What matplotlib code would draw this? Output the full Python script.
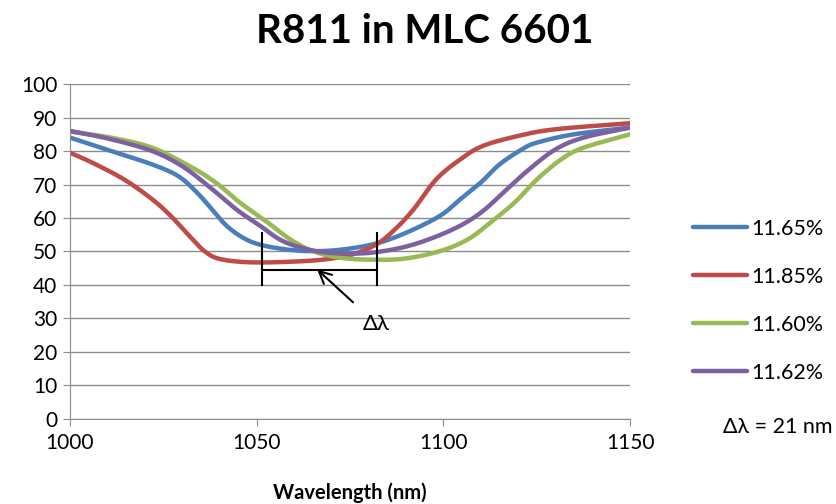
import numpy as np
import matplotlib
matplotlib.use("Agg")
import matplotlib.pyplot as plt

plt.rcParams['font.family'] = ['Lato', 'DejaVu Sans']

# wavelength (nm) / value pairs
blue_x = [1000, 1011, 1022, 1029, 1034, 1038, 1042, 1046.5, 1051, 1058, 1065, 1073, 1082, 1090, 1099, 1104.5, 1110, 1115, 1121, 1125, 1135, 1150]
blue_y = [84, 80, 76, 72.5, 67.6, 62.6, 57.6, 54, 52, 50.6, 50.1, 50.6, 52.4, 55.6, 60.6, 65.6, 70.6, 76, 80.5, 82.5, 85, 87]

red_x = [1000, 1006, 1014.5, 1022, 1027, 1032, 1036, 1040, 1047.5, 1058, 1068, 1075.5, 1082, 1087, 1092, 1098, 1104.5, 1110.5, 1120, 1130, 1150]
red_y = [79.5, 76.5, 71.5, 65.6, 60.6, 54.6, 50.1, 47.8, 46.8, 46.9, 47.6, 49.1, 52.1, 56.6, 62.6, 71.5, 77.5, 81.5, 84.5, 86.5, 88.3]

green_x = [1000, 1011, 1022, 1032, 1039, 1045.5, 1053, 1059, 1065, 1071.5, 1078.5, 1089, 1099, 1106.5, 1112.5, 1119, 1125, 1131.5, 1137.5, 1150]
green_y = [85.8, 84, 81, 75.5, 70.6, 64.6, 58.6, 53.6, 50.1, 48.3, 47.6, 47.8, 50.1, 53.6, 58.6, 64.6, 71.5, 77.5, 81, 85]

purple_x = [1000, 1011, 1022, 1030, 1037, 1044.5, 1051, 1057, 1065, 1073, 1082, 1092, 1102.5, 1110, 1117, 1123, 1130, 1137.5, 1150]
purple_y = [86, 83.5, 80, 75.5, 69.6, 62.6, 57.6, 53.1, 50.3, 49.4, 49.8, 52.1, 56.6, 61.6, 68.6, 74.6, 80.5, 84, 87]

labels = ['11.65%', '11.85%', '11.60%', '11.62%']
colors = ['#4A7EBB', '#BE4B48', '#98B954', '#7D60A0']

# delta-lambda bracket
br_left, br_right = 1051.3, 1082.1
br_low, br_high = 40, 55.6
br_mid = 44.6


def smooth(x, y, n=12):
    # catmull-rom so the lines look like excel smoothed lines
    x = np.asarray(x, float)
    y = np.asarray(y, float)
    px = np.concatenate([[2 * x[0] - x[1]], x, [2 * x[-1] - x[-2]]])
    py = np.concatenate([[2 * y[0] - y[1]], y, [2 * y[-1] - y[-2]]])
    ox, oy = [], []
    t = np.linspace(0, 1, n, endpoint=False)
    for i in range(1, len(px) - 2):
        for arr, out in ((px, ox), (py, oy)):
            p0, p1, p2, p3 = arr[i - 1:i + 3]
            out.extend(0.5 * (2 * p1 + (-p0 + p2) * t + (2 * p0 - 5 * p1 + 4 * p2 - p3) * t ** 2
                              + (-p0 + 3 * p1 - 3 * p2 + p3) * t ** 3))
    ox.append(x[-1])
    oy.append(y[-1])
    return ox, oy


fig = plt.figure(figsize=(8.37, 5.04), dpi=100)
ax = fig.add_axes([0.0836, 0.1687, 0.6694, 0.6646])

series = [(blue_x, blue_y), (red_x, red_y), (green_x, green_y), (purple_x, purple_y)]
for (xs, ys), lab, c in zip(series, labels, colors):
    sx, sy = smooth(xs, ys)
    ax.plot(sx, sy, color=c, lw=3.2, label=lab, solid_capstyle='round')

ax.set_xlim(1000, 1150)
ax.set_ylim(0, 100)
ax.set_xticks([1000, 1050, 1100, 1150])
ax.set_yticks(range(0, 101, 10))
ax.grid(axis='y', color='#8c8c8c', lw=1)
ax.set_axisbelow(True)
for s in ['top', 'right']:
    ax.spines[s].set_visible(False)
for s in ['left', 'bottom']:
    ax.spines[s].set_color('#8c8c8c')
ax.tick_params(colors='#8c8c8c', labelcolor='black', labelsize=15, length=5)
ax.tick_params(axis='x', pad=5)
ax.tick_params(axis='y', pad=4)
ax.set_xlabel('Wavelength (nm)', fontsize=14.5, fontweight='bold', labelpad=21)

fig.text(0.507, 0.938, 'R811 in MLC 6601', fontsize=29, fontweight='bold',
         ha='center', va='center')

# bracket + arrow
ax.plot([br_left, br_left], [br_low, br_high], color='black', lw=1.5)
ax.plot([br_right, br_right], [br_low, br_high], color='black', lw=1.5)
ax.plot([br_left, br_right], [br_mid, br_mid], color='black', lw=1.5)
ax.annotate('Δλ', xy=(1066.2, br_mid), xytext=(1082, 28.5), fontsize=16,
            ha='center', va='center',
            arrowprops=dict(arrowstyle='->', color='black', lw=1.5, shrinkA=9, shrinkB=0,
                            mutation_scale=22))

fig.legend(loc='upper left', bbox_to_anchor=(0.828, 0.566), frameon=False, fontsize=15.5,
           handlelength=2.5, handletextpad=0.2, labelspacing=1.3, borderpad=0,
           borderaxespad=0)
fig.text(0.995, 0.153, 'Δλ = 21 nm', fontsize=15.5, ha='right', va='center')

fig.savefig('out.png', dpi=100)
